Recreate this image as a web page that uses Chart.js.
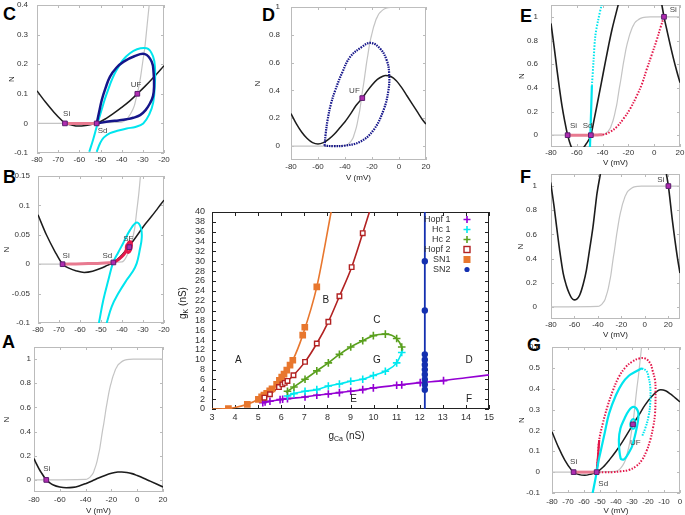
<!DOCTYPE html>
<html><head><meta charset="utf-8">
<script src="https://cdn.jsdelivr.net/npm/chart.js@4.4.0/dist/chart.umd.min.js"></script>
<style>
body{margin:0;background:#fff;width:685px;height:515px;overflow:hidden;position:relative;font-family:"Liberation Sans",Arial,sans-serif}
canvas{position:absolute}
.lt{position:absolute;font:bold 18px "Liberation Sans",Arial,sans-serif;color:#000;line-height:1}
</style></head><body>
<div class="lt" style="left:3px;top:5px">C</div>
<div class="lt" style="left:3px;top:168px">B</div>
<div class="lt" style="left:2px;top:333px">A</div>
<div class="lt" style="left:262px;top:6px">D</div>
<div class="lt" style="left:520px;top:7px">E</div>
<div class="lt" style="left:520px;top:168px">F</div>
<div class="lt" style="left:527px;top:336px">G</div>
<script>
// ---------- shared N-infinity (gray) ----------
const ninfV=[-80,-40,-38,-36,-34,-33,-32,-31,-30,-29,-28,-27,-26,-25,-24,-23,-22,-21,-20,-19,-18,-17,-16,-15,-13,-11,-9,-6,-3,0,30];
const ninfN=[0,0.004,0.012,0.03,0.06,0.09,0.12,0.16,0.21,0.26,0.33,0.4,0.46,0.53,0.6,0.66,0.72,0.77,0.81,0.85,0.88,0.91,0.93,0.95,0.97,0.985,0.993,0.998,1,1,1];

// ---------- panel A ----------
const aNullV=[-80,-78,-76,-74,-72,-70.5,-68,-65,-60,-55,-50,-45,-40,-35,-30,-25,-20,-15,-12,-8,-4,0,5,10,15,20];
const aNullN=[0.177,0.13,0.09,0.055,0.022,0,-0.022,-0.042,-0.059,-0.065,-0.062,-0.05,-0.031,-0.009,0.015,0.037,0.055,0.065,0.066,0.062,0.052,0.036,0.014,-0.01,-0.034,-0.058];
const aFixV=[-70.5], aFixN=[0];

// ---------- panel B ----------
const bNullV=[-80,-76,-72,-68.3,-65,-62,-58,-54,-50,-47,-44.1,-41,-38,-35,-32,-29,-26,-23,-20];
const bNullN=[0.084,0.05,0.022,0,-0.007,-0.011,-0.014,-0.012,-0.007,-0.002,0.003,0.012,0.024,0.038,0.053,0.068,0.081,0.095,0.109];
const bPinkV=[-68.3,-62,-56,-50,-44.1], bPinkN=[0,0.0005,0.001,0.0015,0.003];
const bRedV=[-44.1,-42,-40,-38.6,-38,-37.6,-36.8,-35.8,-35.5,-36,-37,-37.8,-37.9,-37.2,-36.5];
const bRedN=[0.003,0.007,0.013,0.019,0.024,0.03,0.037,0.038,0.032,0.024,0.02,0.024,0.03,0.034,0.029];
const bCyanV=[-51,-48.9,-46.5,-44.2,-41.8,-39.4,-36.2,-33,-31,-30.6,-31.5,-33,-35,-37.8,-41.8,-44.9,-47.3];
const bCyanN=[-0.1,-0.061,-0.027,0.003,0.02,0.036,0.058,0.071,0.062,0.045,0.025,0.0015,-0.013,-0.027,-0.05,-0.072,-0.1];
const bFixV=[-68.3,-44.1,-36.5], bFixN=[0,0.003,0.029];

// ---------- panel C ----------
const cNullV=[-80,-76,-72,-68,-66.8,-64,-60.5,-57,-54,-51.8,-48,-44,-40,-36,-32.6,-29,-25,-20];
const cNullN=[0.11,0.072,0.038,0.008,0,-0.005,-0.009,-0.007,-0.003,0,0.014,0.033,0.054,0.077,0.1,0.125,0.155,0.195];
const cFixV=[-66.8,-51.8,-32.6], cFixN=[0,0,0.1];
const cPinkV=[-66.8,-51.8], cPinkN=[0,0];
const cBlueV=[-51.8,-50.6,-49.4,-47.6,-45.5,-42.5,-39.2,-34,-29,-25.8,-24.9,-24.7,-25.2,-26.6,-28.7,-31.3,-34.5,-37.6,-41.5,-45.5,-51.8];
const cBlueN=[0,0.04,0.079,0.12,0.158,0.188,0.208,0.227,0.234,0.208,0.17,0.124,0.092,0.068,0.045,0.028,0.019,0.014,0.01,0.007,0];
const cCyanV=[-55.3,-53.5,-51.8,-49.5,-47.1,-42.4,-36.1,-28.2,-25.1,-24.2,-24.3,-25.1,-27,-29.8,-33.5,-37.6,-41.5,-45.5,-48.5,-50.2,-51.8];
const cCyanN=[-0.096,-0.055,-0.011,0.045,0.1,0.18,0.237,0.254,0.225,0.18,0.135,0.07,0.03,0,-0.012,-0.017,-0.024,-0.033,-0.048,-0.067,-0.096];

// ---------- panel D ----------
const dNullV=[-80,-76,-72,-68,-64,-60,-56,-52,-48,-44,-40,-36,-32,-27.2,-24,-20,-16,-12,-10,-6,-2,2,6,10,14,17,20];
const dNullN=[0.234,0.16,0.1,0.055,0.025,0.015,0.025,0.05,0.085,0.13,0.175,0.23,0.29,0.345,0.39,0.44,0.48,0.502,0.507,0.5,0.47,0.42,0.36,0.3,0.24,0.195,0.158];
const dFixV=[-27.2], dFixN=[0.345];
const dBlueV=[-55.1,-54.3,-52.9,-50.5,-47.2,-42,-36.2,-27.5,-20.9,-14,-9.1,-7.3,-7.8,-11.5,-18.9,-28.8,-41.1,-48.5,-55.1];
const dBlueN=[0.002,0.09,0.187,0.3,0.402,0.53,0.641,0.713,0.742,0.701,0.617,0.522,0.402,0.258,0.115,0.031,0.002,0,0.002];

// ---------- panel E ----------
const eNullLV=[-80,-77.5,-75.4,-73.5,-71.5,-69.3,-67.1,-63.8,-60.4,-56,-52.5,-49.1,-46.5,-43.9,-41,-38,-35.3,-32.8,-30.3,-27.7];
const eNullLN=[0.944,0.74,0.556,0.4,0.25,0.115,0,-0.11,-0.14,-0.12,-0.07,0,0.135,0.278,0.44,0.611,0.76,0.889,1.0,1.11];
const eNullRV=[5.8,7.6,10,14.8,17.5,20], eNullRN=[1.11,1.0,0.88,0.653,0.54,0.444];
const eFixV=[-67.1,-49.1,7.6], eFixN=[0,0,1.0];
const ePinkV=[-67.1,-58,-49.1,-44,-40], ePinkN=[0,0,0,0.002,0.004];
const eRedV=[-40,-37,-34.1,-29,-23.8,-18.7,-13.5,-9.6,-5.8,-1.9,2,5.1,7.6];
const eRedN=[0.004,0.012,0.028,0.07,0.139,0.222,0.333,0.43,0.556,0.68,0.806,0.917,1.0];
const eCyanAV=[-49.8,-49.2,-48.3], eCyanAN=[-0.1,0.1,0.417];
const eCyanBV=[-48.3,-47,-45.7,-43.5,-40.6], eCyanBN=[0.417,0.63,0.833,0.97,1.11];

// ---------- panel F ----------
const fNullLV=[-80.3,-77.5,-75.2,-72.5,-69.6,-67,-64.5,-62.5,-60.3,-58,-55.5,-52.5,-49.8,-47,-44.2,-42.5,-40.8,-37.9];
const fNullLN=[1.03,0.84,0.662,0.46,0.278,0.18,0.113,0.075,0.058,0.065,0.099,0.19,0.305,0.48,0.662,0.8,0.937,1.1];
const fNullRV=[18.4,20.1,23.5,27.7,30], fNullRN=[1.1,1.0,0.717,0.415,0.28];
const fFixV=[20.1], fFixN=[1.0];

// ---------- panel G ----------
const gNullV=[-80,-76,-72,-68,-66.5,-63,-59.5,-56,-52.1,-48,-44,-40,-36,-32,-29.4,-26,-22,-18,-14,-12,-9,-6,-3,0];
const gNullN=[0.194,0.12,0.058,0.012,0,-0.012,-0.015,-0.01,0,0.025,0.06,0.1,0.145,0.195,0.229,0.27,0.32,0.36,0.39,0.395,0.39,0.375,0.356,0.337];
const gFixV=[-66.5,-52.1,-29.4], gFixN=[0,0,0.229];
const gPinkV=[-66.5,-52.1], gPinkN=[0,0];
const gRedV=[-52.1,-51.3,-50.5,-48.2,-45.4,-42,-38.2,-34,-30,-25.5,-21.7,-18.5,-17.2,-15.6,-15.3,-15.6,-16.8,-18.6,-21,-23.8,-27.5,-32,-37,-42.3,-47,-52.1];
const gRedN=[0,0.07,0.154,0.235,0.313,0.39,0.457,0.503,0.529,0.545,0.545,0.52,0.489,0.44,0.394,0.282,0.215,0.154,0.1,0.058,0.028,0.01,0.004,0,0,0];
const gRedSV=[-52.1,-51.3,-50.5], gRedSN=[0,0.07,0.154];
const gCyanAV=[-54.6,-53.3,-52.1,-51,-49.4,-47,-44.3,-40,-36.1,-32,-27.9,-23.8];
const gCyanAN=[-0.1,-0.05,0,0.05,0.106,0.19,0.282,0.37,0.426,0.462,0.481,0.498];
const gCyanBV=[-23.8,-21,-19.7,-18.6,-18.6,-19.7,-21.5,-23.8], gCyanBN=[0.498,0.485,0.457,0.41,0.33,0.266,0.215,0.17];
const gCyanCV=[-30,-33,-35.1,-37.1,-38.2,-37.2,-35.1,-32,-29,-26.2,-26.2,-26.9,-28.3,-30];
const gCyanCN=[0.122,0.08,0.061,0.066,0.154,0.21,0.25,0.295,0.313,0.29,0.25,0.218,0.17,0.122];
const gCyanDV=[-29.4,-31,-30.6,-29,-28,-28.2,-29.4], gCyanDN=[0.205,0.22,0.245,0.255,0.24,0.215,0.205];

// ---------- bifurcation diagram ----------
const sn1CurveX=[3,3.5,3.71,4,4.53,5.01,5.37,5.66,5.92,6.24,6.5,6.93,7.54,8.16];
const sn1CurveY=[0,0.02,0.1,0.3,0.95,1.97,3.2,4.3,5.84,7.9,9.9,15,24.8,40];
const sn1X=[3.71,4.53,5.01,5.15,5.25,5.37,5.5,5.6,5.8,5.92,6.02,6.12,6.24,6.38,6.5,6.93,7.02,7.54];
const sn1Y=[0.1,0.95,1.97,2.45,2.8,3.2,3.7,4.1,5.0,5.84,6.5,7.1,7.9,8.9,9.9,15,16.6,24.8];
const hopf2CurveX=[5.2,5.27,5.51,5.75,6.0,6.25,6.53,7.03,7.54,8.04,8.52,9.05,9.53,9.82];
const hopf2CurveY=[2.0,2.3,3.0,3.9,4.8,5.6,6.86,9.57,13.3,17.7,22.9,28.8,35.7,40];
const hopf2X=[5.27,5.51,5.9,6.05,6.15,6.27,6.53,7.03,7.54,8.04,8.52,9.05,9.53];
const hopf2Y=[2.3,3.0,4.45,5.0,5.3,5.7,6.86,9.57,13.3,17.7,22.9,28.8,35.7];
const hc2CurveX=[6.2,6.27,6.55,7.03,7.54,8.04,8.52,9.01,9.53,9.99,10.51,11.0,11.22,11.26];
const hc2CurveY=[3.35,3.6,4.48,6.04,7.74,9.37,11.1,12.6,13.85,14.9,15.2,14.3,12.6,12.0];
const hc2X=[6.27,6.55,7.03,7.54,8.04,8.52,9.01,9.53,9.99,10.51,11.0,11.22];
const hc2Y=[3.6,4.48,6.04,7.74,9.37,11.1,12.6,13.85,14.9,15.2,14.3,12.6];
const hc1CurveX=[6.2,6.27,6.55,7.03,7.54,8.04,8.52,9.01,9.53,9.99,10.51,11.0,11.22,11.26];
const hc1CurveY=[2.55,2.65,3.12,3.6,3.94,4.68,5.09,5.63,6.04,6.79,7.67,9.37,11.47,12.0];
const hc1X=[6.27,6.55,7.03,7.54,8.04,8.52,9.01,9.53,9.99,10.51,11.0,11.22];
const hc1Y=[2.65,3.12,3.6,3.94,4.68,5.09,5.63,6.04,6.79,7.67,9.37,11.47];
const hopf1CurveX=[5.2,5.51,6.06,6.27,7.03,7.54,8.04,8.52,9.01,9.53,9.99,11.0,12.02,13.03,14,15];
const hopf1CurveY=[1.29,1.56,1.97,2.1,2.44,2.78,3.05,3.33,3.6,3.94,4.28,4.82,5.36,5.77,6.35,6.92];
const hopf1X=[5.2,5.3,5.51,5.95,6.06,6.27,7.03,7.54,8.04,8.52,9.01,9.53,9.99,11.0,11.22,12.02,13.03];
const hopf1Y=[1.29,1.43,1.56,1.9,1.97,2.1,2.44,2.78,3.05,3.33,3.6,3.94,4.28,4.82,4.89,5.36,5.77];
const sn2LineX=[12.22,12.22], sn2LineY=[0,40];
const sn2X=[12.22,12.22,12.22,12.22,12.22,12.22,12.22,12.22,12.22,12.22];
const sn2Y=[30,20,11.1,10,9,8,7,6,5,3.9];
const legendNames=['Hopf 1','Hc 1','Hc 2','Hopf 2','SN1','SN2'];
const regionNames=['A','B','C','G','D','E','F'];
const regionX=[4.14,7.93,10.14,10.14,14.14,9.13,14.14];
const regionY=[10,22,18,10,10,2,2];

// ---------- tick values ----------
const cXT=[-80,-70,-60,-50,-40,-30,-20], cYT=[-0.1,0,0.1,0.2,0.3,0.4];
const bXT=[-80,-70,-60,-50,-40,-30,-20], bYT=[-0.1,-0.05,0,0.05,0.1,0.15];
const aXT=[-80,-60,-40,-20,0,20], aYT=[0,0.2,0.4,0.6,0.8,1];
const gXT=[-80,-70,-60,-50,-40,-30,-20,-10,0], gYT=[-0.1,0,0.1,0.2,0.3,0.4,0.5,0.6];
const mXT=[3,4,5,6,7,8,9,10,11,12,13,14,15];
const mYT=[0,2,4,6,8,10,12,14,16,18,20,22,24,26,28,30,32,34,36,38,40];

// ---------- styles ----------
const FONT='"Liberation Sans", Arial, sans-serif';
const BLACK='#1c1c1c', GRAY='#c4c4c4', CYAN='#00e5ee', NAVY='#15158a', PINK='#e87a90', CRIM='#e3174a';
const C_H1='#9400d3', C_HC1='#00e8f0', C_HC2='#5aa01e', C_H2='#b22222', C_SN1='#e8772e', C_SN2='#1430b0';

const P=(xs,ys)=>xs.map((x,i)=>({x:x,y:ys[i]}));
function ln(xs,ys,color,w,extra){return Object.assign({data:P(xs,ys),showLine:true,borderColor:color,backgroundColor:color,borderWidth:w,pointRadius:0,fill:false,tension:0.4},extra||{});}
function curve(xs,ys,color,w,extra){return ln(xs,ys,color,w,Object.assign({cubicInterpolationMode:'monotone'},extra||{}));}
function fix(xs,ys){return {data:P(xs,ys),showLine:false,pointStyle:'rect',pointRadius:3.3,pointBackgroundColor:'#b02cb0',pointBorderColor:'#5b1d6e',pointBorderWidth:1};}
function mk(xs,ys,style,color,r,extra){return Object.assign({data:P(xs,ys),showLine:false,pointStyle:style,pointRadius:r,pointBorderColor:color,pointBackgroundColor:color,pointBorderWidth:1.6},extra||{});}

const DECO={};
const decoPlugin={
  id:'deco',
  beforeDatasetsDraw(chart){
    const d=DECO[chart.canvas.id]; if(!d) return;
    const ctx=chart.ctx,a=chart.chartArea,xs=chart.scales.x,ys=chart.scales.y,tl=d.tl;
    ctx.save(); ctx.lineWidth=1; ctx.strokeStyle=d.tick; ctx.beginPath();
    xs.ticks.forEach(t=>{const p=Math.round(xs.getPixelForValue(t.value))+0.5;ctx.moveTo(p,a.bottom);ctx.lineTo(p,a.bottom-tl);ctx.moveTo(p,a.top);ctx.lineTo(p,a.top+tl);});
    ys.ticks.forEach(t=>{const p=Math.round(ys.getPixelForValue(t.value))+0.5;ctx.moveTo(a.left,p);ctx.lineTo(a.left+tl,p);ctx.moveTo(a.right,p);ctx.lineTo(a.right-tl,p);});
    ctx.stroke();
    ctx.strokeStyle=d.frame;
    ctx.strokeRect(Math.round(a.left)+0.5,Math.round(a.top)+0.5,Math.round(a.right-a.left)-1,Math.round(a.bottom-a.top)-1);
    ctx.restore();
  },
  afterDatasetsDraw(chart){
    const d=DECO[chart.canvas.id]; if(!d) return;
    const ctx=chart.ctx,a=chart.chartArea,xs=chart.scales.x,ys=chart.scales.y;
    ctx.save();
    ctx.fillStyle=d.labelColor||'#444'; ctx.font=(d.labelSize||8)+'px '+FONT;
    ctx.textAlign='center'; ctx.textBaseline='middle';
    (d.labels||[]).forEach(l=>ctx.fillText(l.t,xs.getPixelForValue(l.x),ys.getPixelForValue(l.y)));
    ctx.fillStyle='#222'; ctx.font='8px '+FONT;
    if(d.xTitle) ctx.fillText(d.xTitle,(a.left+a.right)/2,a.bottom+d.xdy);
    if(d.yTitle){ctx.translate(a.left-d.ydx,(a.top+a.bottom)/2);ctx.rotate(-Math.PI/2);ctx.fillText(d.yTitle,0,0);}
    ctx.restore();
    if(d.extra) d.extra(chart);
  }
};

function build(id,box,pad,xr,yr,xt,yt,datasets,opt){
  const c=document.createElement('canvas'); c.id=id;
  const w=box.R-box.L+pad.l+pad.r, h=box.B-box.T+pad.t+pad.b;
  c.width=w; c.height=h;
  Object.assign(c.style,{left:(box.L-pad.l)+'px',top:(box.T-pad.t)+'px',width:w+'px',height:h+'px'});
  document.body.appendChild(c);
  const tf={family:FONT,size:opt.fs};
  const zp=s=>{s.paddingLeft=0;s.paddingRight=0;s.paddingTop=0;s.paddingBottom=0;};
  new Chart(c,{type:'scatter',data:{datasets:datasets},plugins:[decoPlugin],options:{
    responsive:false,animation:false,devicePixelRatio:1,events:[],
    layout:{padding:{left:0,top:pad.t,right:pad.r,bottom:0}},
    plugins:{legend:{display:false},tooltip:{enabled:false}},
    scales:{
      x:{type:'linear',min:xr[0],max:xr[1],
        afterBuildTicks:s=>{s.ticks=xt.map(v=>({value:v}));},
        afterFit:s=>{s.height=pad.b;zp(s);},
        grid:{display:false,drawTicks:false},border:{display:false},
        ticks:{padding:opt.xp,font:tf,color:'#333',maxRotation:0,minRotation:0,autoSkip:false,callback:v=>String(v)}},
      y:{type:'linear',min:yr[0],max:yr[1],
        afterBuildTicks:s=>{s.ticks=yt.map(v=>({value:v}));},
        afterFit:s=>{s.width=pad.l;zp(s);},
        grid:{display:false,drawTicks:false},border:{display:false},
        ticks:{padding:opt.yp,font:tf,color:'#333',autoSkip:false,callback:v=>String(v)}}
    }}});
}

// ---------- Panel C ----------
DECO.pC={frame:'#bbb',tick:'#bbb',tl:3,yTitle:'N',ydx:25,
  labels:[{x:-66,y:0.034,t:'Si'},{x:-49,y:-0.026,t:'Sd'},{x:-33.2,y:0.132,t:'UF'}]};
build('pC',{L:37,T:5,R:164,B:153},{l:37,t:5,r:14,b:17},[-80,-20],[-0.1,0.4],cXT,cYT,[
  fix(cFixV,cFixN),
  ln(cBlueV,cBlueN,NAVY,2.5),
  ln(cCyanV,cCyanN,CYAN,2),
  ln(cPinkV,cPinkN,PINK,3,{tension:0}),
  curve(cNullV,cNullN,BLACK,1.5),
  curve(ninfV,ninfN,GRAY,1.2)
],{fs:8,xp:2,yp:9});

// ---------- Panel B ----------
DECO.pB={frame:'#bbb',tick:'#bbb',tl:3,yTitle:'N',ydx:31,
  labels:[{x:-66.6,y:0.014,t:'Si'},{x:-47,y:0.014,t:'Sd'},{x:-37,y:0.044,t:'SF'}]};
build('pB',{L:38,T:176,R:164,B:323},{l:38,t:6,r:14,b:16},[-80,-20],[-0.1,0.15],bXT,bYT,[
  fix(bFixV,bFixN),
  ln(bRedV,bRedN,CRIM,3),
  ln(bPinkV,bPinkN,PINK,3),
  ln(bCyanV,bCyanN,CYAN,2),
  curve(bNullV,bNullN,BLACK,1.5),
  curve(ninfV,ninfN,GRAY,1.2)
],{fs:8,xp:2,yp:8});

// ---------- Panel A ----------
DECO.pA={frame:'#bbb',tick:'#bbb',tl:3,yTitle:'N',ydx:27,xTitle:'V (mV)',xdy:19,
  labels:[{x:-70,y:0.09,t:'Si'}]};
build('pA',{L:34,T:347,R:163,B:492},{l:34,t:6,r:14,b:23},[-80,20],[-0.1,1.1],aXT,aYT,[
  fix(aFixV,aFixN),
  curve(aNullV,aNullN,BLACK,1.6),
  curve(ninfV,ninfN,GRAY,1.2)
],{fs:8,xp:3,yp:3});

// ---------- Panel D ----------
DECO.pD={frame:'#bbb',tick:'#bbb',tl:3,yTitle:'N',ydx:33,xTitle:'V (mV)',xdy:18,
  labels:[{x:-33,y:0.397,t:'UF'}]};
build('pD',{L:291,T:7,R:426,B:160},{l:40,t:7,r:14,b:25},[-80,20],[-0.1,1],aXT,aYT,[
  fix(dFixV,dFixN),
  ln(dBlueV,dBlueN,NAVY,2.2,{borderDash:[1.5,1]}),
  curve(dNullV,dNullN,BLACK,1.5),
  curve(ninfV,ninfN,GRAY,1.2)
],{fs:8,xp:2,yp:11});

// ---------- Panel E ----------
DECO.pE={frame:'#bbb',tick:'#bbb',tl:3,yTitle:'N',ydx:29,xTitle:'V (mV)',xdy:16,
  labels:[{x:-62.5,y:0.083,t:'Si'},{x:-51.6,y:0.083,t:'Sd'},{x:14.8,y:1.06,t:'Si'}]};
build('pE',{L:551,T:1,R:680,B:147},{l:38,t:1,r:5,b:22},[-80,20],[-0.1,1.1],aXT,aYT,[
  fix(eFixV,eFixN),
  ln(eCyanAV,eCyanAN,CYAN,2.2,{tension:0.3}),
  ln(eCyanBV,eCyanBN,CYAN,2,{tension:0.3,borderDash:[1.5,1.5]}),
  ln(eRedV,eRedN,CRIM,2,{borderDash:[1.5,1.5]}),
  ln(ePinkV,ePinkN,PINK,3),
  curve(eNullLV,eNullLN,BLACK,1.6),
  curve(eNullRV,eNullRN,BLACK,1.6),
  curve(ninfV,ninfN,GRAY,1.2)
],{fs:8,xp:1,yp:13});

// ---------- Panel F ----------
DECO.pF={frame:'#bbb',tick:'#bbb',tl:3,yTitle:'N',ydx:30,xTitle:'V (mV)',xdy:16,
  labels:[{x:13.7,y:1.05,t:'Si'}]};
build('pF',{L:551,T:174,R:681,B:319},{l:38,t:5,r:4,b:22},[-80,30],[-0.1,1.1],aXT,aYT,[
  fix(fFixV,fFixN),
  curve(fNullLV,fNullLN,BLACK,1.6),
  curve(fNullRV,fNullRN,BLACK,1.6),
  curve(ninfV,ninfN,GRAY,1.2)
],{fs:8,xp:1,yp:14});

// ---------- Panel G ----------
DECO.pG={frame:'#bbb',tick:'#bbb',tl:3,yTitle:'N',ydx:30,xTitle:'V (mV)',xdy:18,
  labels:[{x:-66.5,y:0.05,t:'Si'},{x:-48,y:-0.054,t:'Sd'},{x:-27.9,y:0.14,t:'UF'}]};
build('pG',{L:552,T:347,R:682,B:493},{l:38,t:6,r:3,b:22},[-80,0],[-0.1,0.6],gXT,gYT,[
  fix(gFixV,gFixN),
  ln(gCyanDV,gCyanDN,CYAN,2),
  ln(gCyanCV,gCyanCN,CYAN,2.2),
  ln(gCyanAV,gCyanAN,CYAN,2.2),
  ln(gCyanBV,gCyanBN,CYAN,2,{borderDash:[1.5,1.2]}),
  ln(gRedSV,gRedSN,CRIM,2.2),
  ln(gRedV,gRedN,CRIM,2,{borderDash:[1.5,1.5]}),
  ln(gPinkV,gPinkN,PINK,3,{tension:0}),
  curve(gNullV,gNullN,BLACK,1.5),
  curve(ninfV,ninfN,GRAY,1.2)
],{fs:8,xp:4,yp:12});

// ---------- Main bifurcation diagram ----------
function subText(ctx,parts,x,y,rot){
  ctx.save(); ctx.translate(x,y); if(rot) ctx.rotate(rot);
  const fN='10px '+FONT, fS='7px '+FONT; let total=0;
  parts.forEach(p=>{ctx.font=p.sub?fS:fN;p.w=ctx.measureText(p.t).width;total+=p.w;});
  let cx=-total/2; ctx.textAlign='left'; ctx.textBaseline='alphabetic'; ctx.fillStyle='#222';
  parts.forEach(p=>{ctx.font=p.sub?fS:fN;ctx.fillText(p.t,cx,p.sub?5.5:3.5);cx+=p.w;});
  ctx.restore();
}
function legendMarker(ctx,kind,color,x,y){
  ctx.save(); ctx.strokeStyle=color; ctx.fillStyle=color; ctx.lineWidth=1.6;
  if(kind==='cross'){ctx.beginPath();ctx.moveTo(x-3.5,y);ctx.lineTo(x+3.5,y);ctx.moveTo(x,y-3.5);ctx.lineTo(x,y+3.5);ctx.stroke();}
  else if(kind==='open'){ctx.lineWidth=1.4;ctx.fillStyle='#fff';ctx.fillRect(x-3,y-3,6,6);ctx.strokeRect(x-3,y-3,6,6);}
  else if(kind==='rect'){ctx.fillRect(x-3.5,y-3.5,7,7);}
  else {ctx.beginPath();ctx.arc(x,y,2.6,0,Math.PI*2);ctx.fill();}
  ctx.restore();
}
const legendKinds=['cross','cross','cross','open','rect','circle'];
const legendColors=[C_H1,C_HC1,C_HC2,C_H2,C_SN1,C_SN2];
DECO.pM={frame:'#222',tick:'#222',tl:4,labelColor:'#222',labelSize:10,
  labels:regionNames.map((t,i)=>({x:regionX[i],y:regionY[i],t:t})),
  extra(chart){
    const ctx=chart.ctx,a=chart.chartArea;
    ctx.save(); ctx.font='9px '+FONT; ctx.fillStyle='#333'; ctx.textAlign='right'; ctx.textBaseline='middle';
    legendNames.forEach((n,i)=>{const y=a.top+7.5+10*i;ctx.fillText(n,a.left+238.5,y);legendMarker(ctx,legendKinds[i],legendColors[i],a.left+255,y);});
    ctx.restore();
    subText(ctx,[{t:'g'},{t:'K',sub:true},{t:' (nS)'}],a.left-30,a.top+91,-Math.PI/2);
    subText(ctx,[{t:'g'},{t:'Ca',sub:true},{t:' (nS)'}],(a.left+a.right)/2-4,a.bottom+26,0);
  }};
build('pM',{L:212,T:212,R:489,B:409},{l:44,t:7,r:10,b:36},[3,15],[0,40],mXT,mYT,[
  mk(sn2X,sn2Y,'circle',C_SN2,2.4),
  mk(hopf2X,hopf2Y,'rect',C_H2,3.2,{pointBackgroundColor:'#fff',pointBorderWidth:1.4}),
  mk(sn1X,sn1Y,'rect',C_SN1,3.6),
  mk(hc2X,hc2Y,'cross',C_HC2,3.8),
  mk(hc1X,hc1Y,'cross',C_HC1,3.8),
  mk(hopf1X,hopf1Y,'cross',C_H1,3.8),
  ln(sn2LineX,sn2LineY,C_SN2,1.8,{tension:0}),
  curve(sn1CurveX,sn1CurveY,C_SN1,1.6),
  curve(hopf2CurveX,hopf2CurveY,C_H2,1.6),
  curve(hc2CurveX,hc2CurveY,C_HC2,1.6),
  curve(hc1CurveX,hc1CurveY,C_HC1,1.6),
  curve(hopf1CurveX,hopf1CurveY,C_H1,1.6)
],{fs:9,xp:3.6,yp:7});
</script>
</body></html>
